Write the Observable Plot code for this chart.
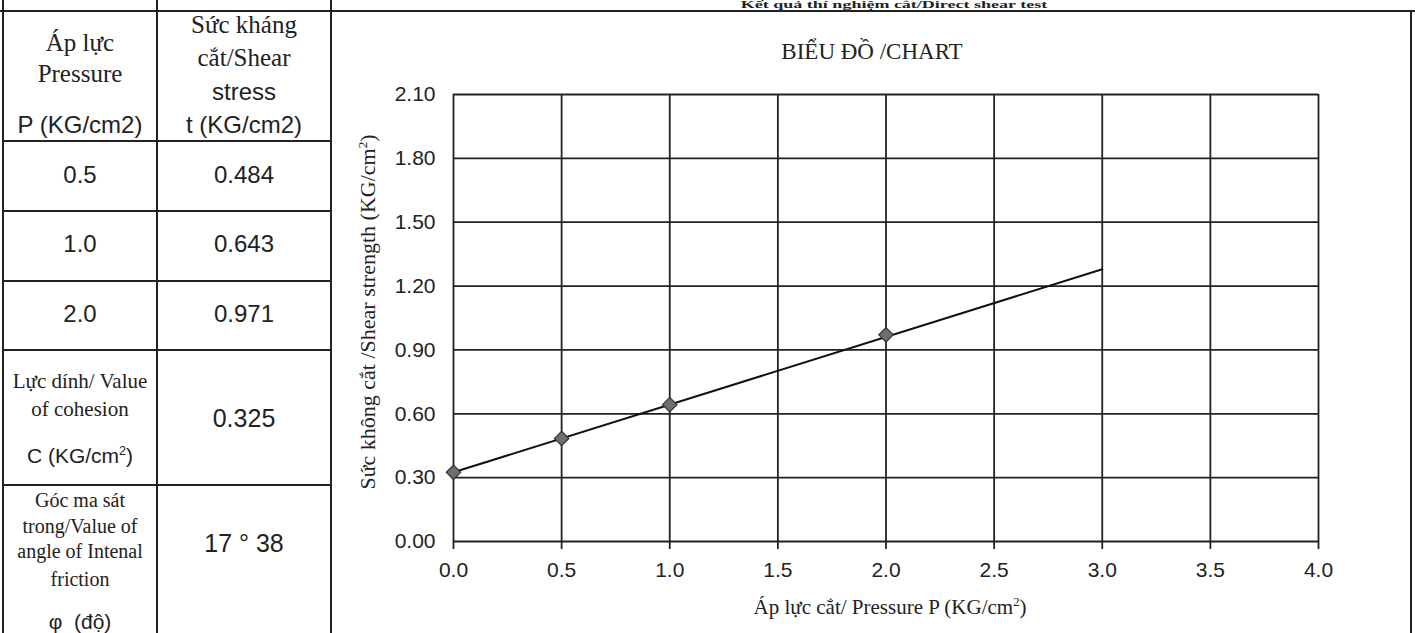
<!DOCTYPE html>
<html><head><meta charset="utf-8">
<script src="https://cdn.jsdelivr.net/npm/d3@7"></script>
<script src="https://cdn.jsdelivr.net/npm/@observablehq/plot@0.6"></script>
<style>
html,body{margin:0;padding:0;background:#fff}
body{width:1415px;height:633px;overflow:hidden;position:relative;font-family:"Liberation Serif","Times New Roman",serif;color:#222}
.hl{position:absolute;height:2px;background:#222}
.vl{position:absolute;width:2px;background:#222}
.t{position:absolute;transform:translate(-50%,-50%);white-space:nowrap;line-height:1}
.sans{font-family:"Liberation Sans",Arial,sans-serif}
sup{font-size:0.6em;vertical-align:0;position:relative;top:-0.6em}
#chart{position:absolute;left:333px;top:14px}
</style></head><body>
<div id="root"></div>
<script>
// ---- data ----
const pressureP = [0.5, 1.0, 2.0];
const shearT = [0.484, 0.643, 0.971];
const cohesionC = 0.325;
const frictionAngle = "17 ° 38";
const chartP = [0, 0.5, 1.0, 2.0];
const chartT = [0.325, 0.484, 0.643, 0.971];
const trendP = [0, 3.0];
const trendT = [0.325, 1.279];
const xTicks = [0, 0.5, 1.0, 1.5, 2.0, 2.5, 3.0, 3.5, 4.0];
const yTicks = [0, 0.3, 0.6, 0.9, 1.2, 1.5, 1.8, 2.1];

const root = document.getElementById("root");
function line(cls, l, t, w, h) {
  const d = document.createElement("div");
  d.className = cls;
  d.style.left = l + "px"; d.style.top = t + "px";
  if (w != null) d.style.width = w + "px";
  if (h != null) d.style.height = h + "px";
  root.appendChild(d);
}
function text(html, x, y, size, sans, extra) {
  const d = document.createElement("div");
  d.className = "t" + (sans ? " sans" : "");
  d.style.left = x + "px"; d.style.top = y + "px";
  d.style.fontSize = size + "px";
  if (extra) Object.assign(d.style, extra);
  d.innerHTML = html;
  root.appendChild(d);
  return d;
}

// frame lines
line("hl", 0, 10, 1415, null);
line("vl", 2, 0, null, 633);
line("vl", 156, 0, null, 633);
line("vl", 330, 0, null, 633);
line("vl", 1410, 10, null, 623);
[140, 210, 280, 349, 484].forEach(y => line("hl", 2, y, 330, null));

// top heading (squeezed into the thin strip above the table)
const heading = document.createElement("div");
heading.style.cssText = "position:absolute;right:368px;top:0px;font-size:10px;font-weight:bold;white-space:nowrap;line-height:10px;transform:scaleX(1.8);transform-origin:right top";
heading.textContent = "Kết quả thí nghiệm cắt/Direct shear test";
root.appendChild(heading);

// table header
const c1 = 80, c2 = 244;
text("Áp lực", c1, 42, 25, false);
text("Pressure", c1, 73, 25, false);
text("P (KG/cm2)", c1, 125, 24, true);
text("Sức kháng", c2, 24, 25, false);
text("cắt/Shear", c2, 57, 25, false);
text("stress", c2, 92, 24, true);
text("t (KG/cm2)", c2, 125, 24, true);

// table rows
const rowY = [175, 244, 314];
pressureP.forEach((p, i) => {
  text(p.toFixed(1), c1, rowY[i], 24, true);
  text(shearT[i].toFixed(3), c2, rowY[i], 24, true);
});
text("Lực dính/ Value", c1, 381, 21, false);
text("of cohesion", c1, 409, 21, false);
text("C (KG/cm<sup>2</sup>)", c1, 455, 21, true);
text(cohesionC.toFixed(3), c2, 418, 25, true);
text("Góc ma sát", c1, 500, 20, false);
text("trong/Value of", c1, 526, 20, false);
text("angle of Intenal", c1, 551, 20, false);
text("friction", c1, 579, 20, false);
text("φ&nbsp; (độ)", c1, 621, 21, true);
text(frictionAngle, c2, 543, 25, true);

// chart titles
text("BIỂU ĐỒ /CHART", 872, 51, 23, false);
text("Áp lực cắt/ Pressure P (KG/cm<sup>2</sup>)", 890, 607, 21, false);
text("Sức không cắt /Shear strength (KG/cm<sup>2</sup>)", 368, 312, 22, false,
     {transform: "translate(-50%,-50%) rotate(-90deg)"});

// chart
const pts = chartP.map((p, i) => ({p, t: chartT[i]}));
const trend = trendP.map((p, i) => ({p, t: trendT[i]}));
const plot = Plot.plot({
  width: 1076, height: 619,
  marginLeft: 120, marginRight: 91, marginTop: 80, marginBottom: 92,
  style: {fontFamily: "Liberation Sans, Arial, sans-serif", fontSize: "21px", color: "#222", background: "transparent", overflow: "visible"},
  x: {domain: [0, 4]},
  y: {domain: [0, 2.1]},
  marks: [
    Plot.ruleX(xTicks, {stroke: "#222", strokeWidth: 1.8}),
    Plot.ruleY(yTicks, {stroke: "#222", strokeWidth: 1.8}),
    Plot.axisX(xTicks, {tickSize: 8, tickPadding: 13, tickFormat: d => d.toFixed(1), fontSize: 21, stroke: "#222", strokeWidth: 1.8, label: null}),
    Plot.axisY(yTicks, {tickSize: 0, tickPadding: 18, tickFormat: d => d.toFixed(2), fontSize: 21, label: null}),
    Plot.line(trend, {x: "p", y: "t", stroke: "#111", strokeWidth: 2}),
    Plot.dot(pts, {x: "p", y: "t", symbol: "diamond2", r: 6.5, fill: "#6e6e6e", stroke: "#333", strokeWidth: 1.2})
  ]
});
plot.id = "chart";
root.appendChild(plot);
</script>
</body></html>
